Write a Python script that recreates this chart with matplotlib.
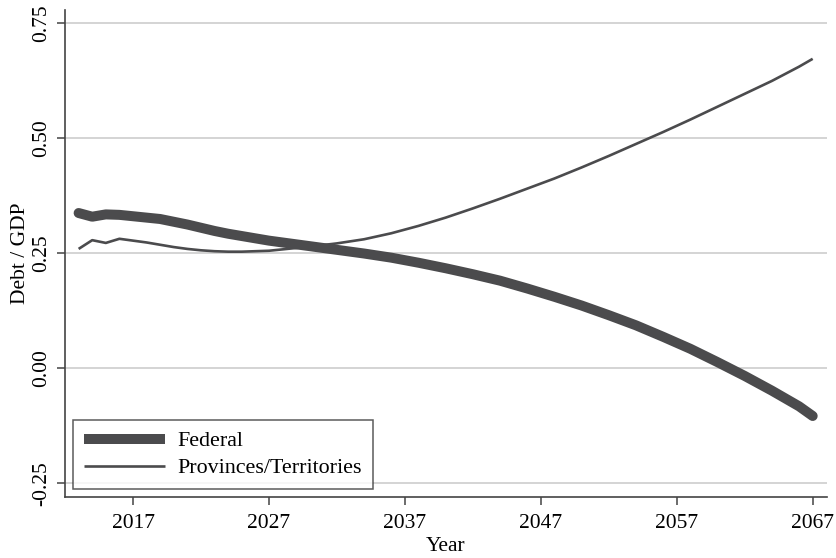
import matplotlib
matplotlib.use("Agg")
import matplotlib.pyplot as plt

# debt to gdp projections
fed_years = [2013, 2014, 2015, 2016, 2017, 2018, 2019, 2020, 2021, 2022,
             2023, 2024, 2025, 2026, 2027, 2028, 2029, 2030, 2032, 2034,
             2036, 2038, 2040, 2042, 2044, 2046, 2048, 2050, 2052, 2054,
             2056, 2058, 2060, 2062, 2064, 2066, 2067]
federal = [0.337, 0.329, 0.334, 0.333, 0.330, 0.327, 0.324, 0.318, 0.312, 0.305,
           0.298, 0.292, 0.287, 0.282, 0.277, 0.273, 0.269, 0.265, 0.257, 0.249,
           0.240, 0.229, 0.217, 0.204, 0.190, 0.173, 0.155, 0.136, 0.115, 0.093,
           0.068, 0.042, 0.013, -0.017, -0.049, -0.083, -0.104]

prov_years = [2013, 2014, 2015, 2016, 2017, 2018, 2019, 2020, 2021, 2022,
              2023, 2024, 2025, 2026, 2027, 2028, 2029, 2030, 2032, 2034,
              2036, 2038, 2040, 2042, 2044, 2046, 2048, 2050, 2052, 2054,
              2056, 2058, 2060, 2062, 2064, 2066, 2067]
provinces = [0.259, 0.278, 0.272, 0.281, 0.277, 0.273, 0.268, 0.263, 0.259, 0.256,
             0.254, 0.253, 0.253, 0.254, 0.255, 0.258, 0.261, 0.264, 0.271, 0.280,
             0.293, 0.309, 0.327, 0.347, 0.368, 0.390, 0.412, 0.436, 0.461, 0.487,
             0.513, 0.540, 0.568, 0.596, 0.624, 0.655, 0.672]

xticks = [2017, 2027, 2037, 2047, 2057, 2067]
yticks = [-0.25, 0.0, 0.25, 0.50, 0.75]
ytick_labels = ["-0.25", "0.00", "0.25", "0.50", "0.75"]

line_color = "#4b4b4d"
fs = 15.5

plt.rcParams['font.family'] = ['Liberation Serif', 'DejaVu Serif']

fig = plt.figure(figsize=(8.37, 5.58), dpi=100)
ax = fig.add_axes([0.0777, 0.109, 0.9103, 0.873])

ax.plot(fed_years, federal, color=line_color, lw=7.2, solid_capstyle='round',
        solid_joinstyle='round', label="Federal", zorder=3)
ax.plot(prov_years, provinces, color=line_color, lw=1.9, solid_capstyle='butt',
        label="Provinces/Territories", zorder=3)

ax.set_xlim(2012, 2068.05)
ax.set_ylim(-0.2804, 0.778)

ax.set_xticks(xticks)
ax.set_xticklabels([str(t) for t in xticks], fontsize=fs)
ax.set_yticks(yticks)
ax.set_yticklabels(ytick_labels, fontsize=fs, rotation=90, va='center')

ax.grid(axis='y', color='#d4d4d4', lw=1.4, zorder=0)
ax.grid(axis='x', visible=False)

for s in ['top', 'right']:
    ax.spines[s].set_visible(False)
for s in ['left', 'bottom']:
    ax.spines[s].set_color('#444444')
    ax.spines[s].set_linewidth(1.2)

ax.tick_params(axis='both', direction='out', length=6, width=1.1, color='#444444')
ax.tick_params(axis='x', pad=6)
ax.tick_params(axis='y', pad=4)

ax.set_xlabel("Year", fontsize=fs, labelpad=3)
ax.set_ylabel("Debt / GDP", fontsize=fs)
ax.yaxis.set_label_coords(-0.046, 0.5)

leg = ax.legend(loc='lower left', bbox_to_anchor=(0.0105, 0.0164), fontsize=15.8,
                frameon=True, fancybox=False, edgecolor='#333333',
                handlelength=3.7, handletextpad=0.55, borderpad=0.5,
                labelspacing=0.3, borderaxespad=0)
leg.get_frame().set_linewidth(1.1)
for h in leg.get_lines():
    h.set_solid_capstyle('butt')

fig.savefig("out.png", dpi=100)
